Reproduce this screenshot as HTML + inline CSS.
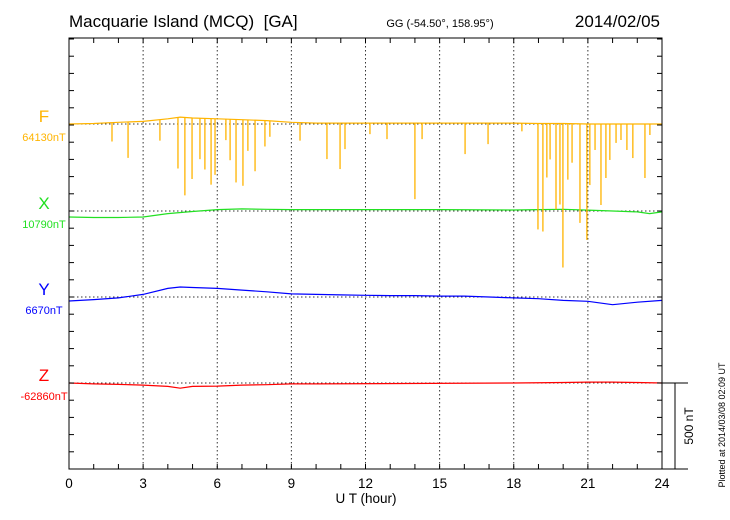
<!DOCTYPE html>
<html><head><meta charset="utf-8"><style>
body{margin:0;background:#fff;}
svg{display:block;font-family:"Liberation Sans",sans-serif;}
</style></head><body>
<svg id="chart" width="730" height="520" viewBox="0 0 730 520" xmlns="http://www.w3.org/2000/svg">
<text x="69" y="27" font-size="17">Macquarie Island (MCQ) &#160;[GA]</text>
<text x="440" y="27" font-size="11" text-anchor="middle">GG (-54.50°, 158.95°)</text>
<text x="660" y="27" font-size="17" text-anchor="end">2014/02/05</text>
<g id="grid"></g><g id="series"></g><g id="axes"></g>
<text x="366" y="503" font-size="13.5" text-anchor="middle">U T (hour)</text>
<text transform="translate(693,426) rotate(-90)" font-size="12" text-anchor="middle">500 nT</text>
<text transform="translate(725,425) rotate(-90)" font-size="9" text-anchor="middle">Plotted at 2014/03/08 02:09 UT</text>
</svg>
<script>
const hoursF=[0,1,2,3,4,4.5,5,6,7,8,9,10,12,14,16,18,19,20,21,22,24];
const valsF=[0,3,10,15,30,40,35,30,25,20,10,5,5,5,5,5,3,3,0,0,0];
const spikeHours=[1.74,2.39,3.68,4.41,4.69,4.98,5.30,5.50,5.75,5.91,6.35,6.52,6.76,7.04,7.24,7.53,7.93,8.13,9.35,10.44,10.97,11.17,12.18,12.87,14.00,14.29,16.03,16.96,18.33,18.98,19.18,19.34,19.47,19.71,19.87,19.99,20.19,20.36,20.68,20.96,21.08,21.29,21.53,21.73,21.89,22.14,22.34,22.58,22.82,23.31,23.51];
const spikeDepths=[110,209,122,297,453,355,238,297,384,326,122,238,366,384,180,297,151,93,105,209,267,151,64,93,442,93,180,122,47,616,628,314,209,500,471,837,326,227,576,674,355,151,471,314,209,110,93,151,198,314,64];
const hoursX=[0,1,2,3,4,5,6,7,8,9,12,15,18,19,20,21,22,23,23.5,24];
const valsX=[-35,-38,-38,-35,-15,-3,8,12,10,8,8,8,6,8,10,5,0,-5,-15,-5];
const hoursY=[0,1,2,3,4,4.5,5,6,7,8,9,10,11,12,13,14,15,16,17,18,19,20,21,22,23,24];
const valsY=[-23,-15,-5,15,50,58,55,50,40,30,18,15,12,10,8,8,5,5,0,-5,-10,-20,-25,-45,-30,-20];
const hoursZ=[0,1,2,3,4,4.5,5,6,7,8,9,10,18,20,21,22,23,24];
const valsZ=[0,-5,-8,-12,-20,-30,-20,-18,-12,-10,-5,-5,0,3,5,5,3,0];
const xTicks=[0,3,6,9,12,15,18,21,24];
const compNames=['F','X','Y','Z'];
const compBase=['64130nT','10790nT','6670nT','-62860nT'];
const compColors=['#ffb400','#22e022','#0000ff','#ff0000'];
const L=69,R=662,T=38,B=469,PXNT=86/500;
const baseY=[124,211,297,383];
const xs=h=>L+(R-L)*h/24;
const ys=(i,v)=>baseY[i]-v*PXNT;
const NS='http://www.w3.org/2000/svg';
function mk(tag,attrs,parent){const e=document.createElementNS(NS,tag);for(const k in attrs)e.setAttribute(k,attrs[k]);parent.appendChild(e);return e;}
const grid=document.getElementById('grid'),ser=document.getElementById('series'),ax=document.getElementById('axes'),svg=document.getElementById('chart');
xTicks.slice(1,-1).forEach(h=>{const l=mk('line',{x1:xs(h),x2:xs(h),y1:T,y2:B,stroke:'#333','stroke-width':1,'stroke-dasharray':'1.5,2.5'},grid);

});
baseY.forEach((y,i)=>{const l=mk('line',{x1:L,x2:R,y1:y,y2:y,stroke:'#333','stroke-width':1,'stroke-dasharray':'1.5,2.5'},grid);

});
function line(hs,vs,i){const p=hs.map((h,k)=>xs(h).toFixed(1)+','+ys(i,vs[k]).toFixed(1)).join(' ');
const e=mk('polyline',{points:p,fill:'none',stroke:compColors[i],'stroke-width':1.2},ser);

}
line(hoursF,valsF,0);line(hoursX,valsX,1);line(hoursY,valsY,2);line(hoursZ,valsZ,3);
function interpF(h){for(let k=1;k<hoursF.length;k++){if(h<=hoursF[k]){const t=(h-hoursF[k-1])/(hoursF[k]-hoursF[k-1]);return valsF[k-1]+t*(valsF[k]-valsF[k-1]);}}return 0;}
spikeHours.forEach((h,k)=>{const b=interpF(h);const s=mk('line',{x1:xs(h),x2:xs(h),y1:ys(0,b),y2:ys(0,b-spikeDepths[k]),stroke:compColors[0],'stroke-width':1.3},ser);

});
mk('rect',{x:L,y:T,width:R-L,height:B-T,fill:'none',stroke:'#000','stroke-width':1},ax);
for(let h=0;h<=24;h++){const x=xs(h);mk('line',{x1:x,x2:x,y1:T,y2:T+5,stroke:'#000'},ax);mk('line',{x1:x,x2:x,y1:B,y2:B-5,stroke:'#000'},ax);}
for(let y=B;y>T;y-=86/5){mk('line',{x1:L,x2:L+5,y1:y,y2:y,stroke:'#000'},ax);mk('line',{x1:R,x2:R-5,y1:y,y2:y,stroke:'#000'},ax);}
xTicks.forEach(h=>{const t=mk('text',{x:xs(h),y:488,'font-size':13.5,'text-anchor':'middle'},svg);t.textContent=h;

});
compNames.forEach((n,i)=>{const a=mk('text',{x:44,y:baseY[i]-2,'font-size':17,'text-anchor':'middle',fill:compColors[i]},svg);a.textContent=n;


const b=mk('text',{x:44,y:baseY[i]+17,'font-size':11,'text-anchor':'middle',fill:compColors[i]},svg);b.textContent=compBase[i];

});
const sb=mk('g',{stroke:'#000','stroke-width':1},svg);


mk('line',{x1:R,x2:688,y1:383,y2:383},sb);mk('line',{x1:R,x2:688,y1:B,y2:B},sb);mk('line',{x1:675,x2:675,y1:383,y2:B},sb);
</script>
</body></html>
